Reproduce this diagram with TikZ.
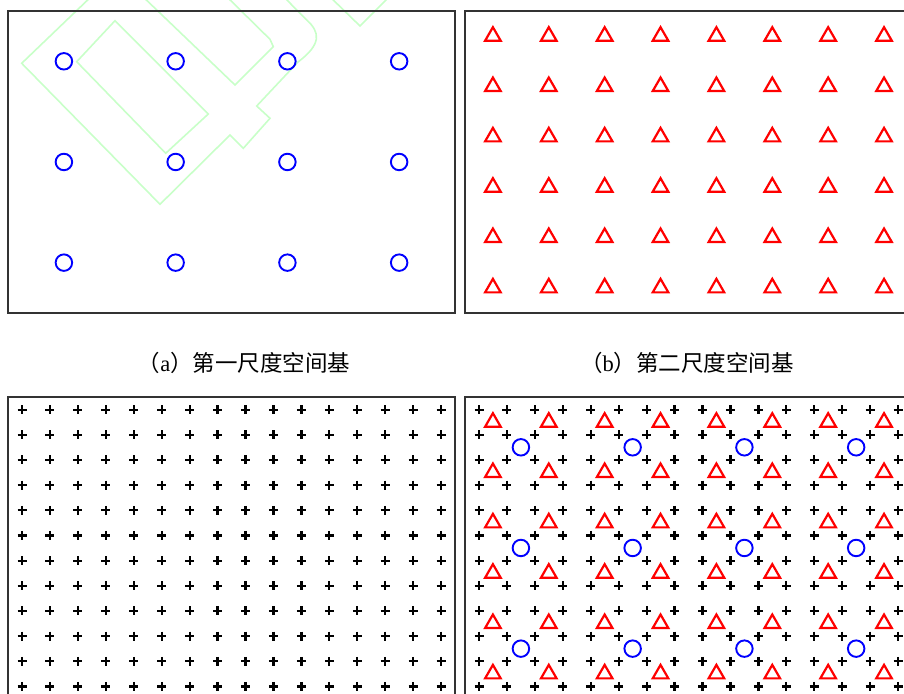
\documentclass[tikz,border=0pt]{standalone}
\usepackage{fontspec}
\setmainfont{Liberation Serif}
\newfontfamily\cjk{Noto Sans CJK SC}
\usetikzlibrary{shapes.geometric}
\definecolor{logogreen}{RGB}{200,255,200}

\begin{document}
\begin{tikzpicture}[
  x=1pt, y=-1pt,
  panel/.style={draw=black!80, line width=2.3pt},
  circ/.style={circle, draw=blue, line width=1.9pt, minimum size=16.5pt,
               inner sep=0pt},
  tri/.style={regular polygon, regular polygon sides=3, draw=red,
              line width=2.2pt, minimum size=18pt, inner sep=0pt},
  plusmark/.style={draw=black, line width=2.2pt},
  wm/.style={draw=logogreen, line width=1.6pt, line join=miter},
  captext/.style={font=\fontsize{22.5}{27}\selectfont, inner sep=0pt},
]
  \useasboundingbox (0,0) rectangle (904,693);
  \clip (0,0) rectangle (904,693);

  % faint logo behind panel (a)
  \draw[wm] (96,-8) -- (21.7,63.3) -- (160,204.3) -- (230,135) -- (243.3,148.3)
    -- (270,118.3) -- (256.7,106) -- (298,62)
    .. controls (322,44) and (320,32) .. (306.7,20) -- (279,-8);
  \draw[wm] (76.7,61.7) -- (115,20.7) -- (208.3,114) -- (165.7,153.3) -- cycle;
  \draw[wm] (138,-8) -- (235,85) -- (273.3,46.7) -- (270,39.3) -- (222,-8);
  \draw[wm] (325,-8) -- (360,26) -- (394,-8);

  % (a) first scale
  \begin{scope}[shift={(8,11)}]
    \draw[panel] (0,0) rectangle (447,302);
    \foreach \i in {0,...,3}
      \foreach \j in {0,...,2}
        \node[circ] (a-c\i-\j) at ({55.9+111.75*\i},{50.3+100.67*\j}) {};
  \end{scope}

  % (b) second scale
  \begin{scope}[shift={(465,11)}]
    \draw[panel] (0,0) rectangle (447,302);
    \foreach \i in {0,...,7}
      \foreach \j in {0,...,5}
        \node[tri] (b-t\i-\j) at ({27.9+55.875*\i},{25.2+50.33*\j}) {};
  \end{scope}

  \node[captext] (capA) at (244,363) {{\cjk （}a{\cjk ）第一尺度空间基}};
  \node[captext] (capB) at (687,363) {{\cjk （}b{\cjk ）第二尺度空间基}};

  % (c) fine grid
  \begin{scope}[shift={(8,397)}]
    \draw[panel] (0,0) rectangle (447,302);
    \foreach \i in {0,...,15}
      \foreach \j in {0,...,11}
        \draw[plusmark] ({14+27.94*\i-4.5},{12.6+25.17*\j})
          -- ++(9,0) ++(-4.5,-4.5) -- ++(0,9);
  \end{scope}

  % (d) all scales together
  \begin{scope}[shift={(465,397)}]
    \draw[panel] (0,0) rectangle (447,302);
    \foreach \i in {0,...,15}
      \foreach \j in {0,...,11}
        \draw[plusmark] ({14+27.94*\i-4.5},{12.6+25.17*\j})
          -- ++(9,0) ++(-4.5,-4.5) -- ++(0,9);
    \foreach \i in {0,...,7}
      \foreach \j in {0,...,5}
        \node[tri] (d-t\i-\j) at ({27.9+55.875*\i},{25.2+50.33*\j}) {};
    \foreach \i in {0,...,3}
      \foreach \j in {0,...,2}
        \node[circ] (d-c\i-\j) at ({55.9+111.75*\i},{50.3+100.67*\j}) {};
  \end{scope}
\end{tikzpicture}
\end{document}
